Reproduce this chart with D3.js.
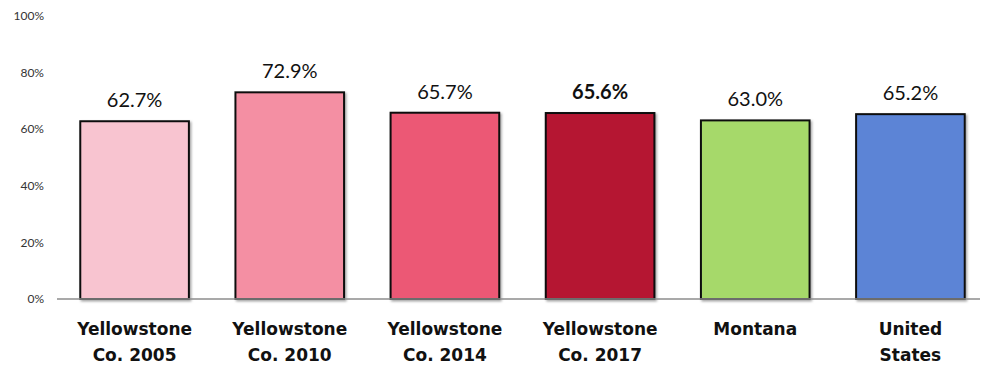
<!DOCTYPE html>
<html>
<head>
<meta charset="utf-8">
<script src="https://cdn.jsdelivr.net/npm/d3@7"></script>
<style>
  html, body { margin: 0; padding: 0; background: #fff; }
  svg { display: block; }
</style>
</head>
<body>
<svg id="chart" width="989" height="366"></svg>
<script>
// Share of population, by area and year
const categories = [
  ["Yellowstone", "Co. 2005"],
  ["Yellowstone", "Co. 2010"],
  ["Yellowstone", "Co. 2014"],
  ["Yellowstone", "Co. 2017"],
  ["Montana"],
  ["United", "States"]
];
const values = [62.7, 72.9, 65.7, 65.6, 63.0, 65.2];
const barColors = ["#F8C4D0", "#F48FA3", "#EC5874", "#B51432", "#A6D96A", "#5B84D6"];
const boldLabel = [false, false, false, true, false, false];
const yTicks = [0, 20, 40, 60, 80, 100];

const svg = d3.select("#chart");
const font = "'Lato', 'DejaVu Sans', sans-serif";
const catFont = "'DejaVu Sans', sans-serif";
const plotLeft = 57, plotRight = 988, plotTop = 15.5, plotBottom = 299;

const x = d3.scaleBand()
  .domain(d3.range(values.length))
  .range([plotLeft, plotRight])
  .paddingInner(0.3)
  .paddingOuter(0.15);

const y = d3.scaleLinear().domain([0, 100]).range([plotBottom, plotTop]);

const defs = svg.append("defs");
const f = defs.append("filter").attr("id", "shadow")
  .attr("x", "-10%").attr("y", "-10%").attr("width", "130%").attr("height", "130%");
f.append("feDropShadow").attr("dx", 1.5).attr("dy", 1.5).attr("stdDeviation", 1.2)
  .attr("flood-color", "#000").attr("flood-opacity", 0.35);

// y axis tick labels
const yAxis = d3.axisLeft(y).tickValues(yTicks).tickFormat(d => d + "%").tickSize(0).tickPadding(13);
const ga = svg.append("g").attr("transform", `translate(${plotLeft},0)`).call(yAxis);
ga.select(".domain").remove();
ga.selectAll("text")
  .attr("font-family", font)
  .attr("font-size", 12)
  .attr("fill", "#333");

// bars
svg.append("g").selectAll("rect")
  .data(values)
  .join("rect")
  .attr("x", (d, i) => x(i))
  .attr("y", d => y(d))
  .attr("width", x.bandwidth())
  .attr("height", d => y(0) - y(d))
  .attr("fill", (d, i) => barColors[i])
  .attr("stroke", "#111")
  .attr("stroke-width", 2)
  .attr("filter", "url(#shadow)");

// baseline
svg.append("line")
  .attr("x1", plotLeft).attr("x2", plotRight - 8)
  .attr("y1", y(0)).attr("y2", y(0))
  .attr("stroke", "#8c8c8c").attr("stroke-width", 1.5);

// value labels
svg.append("g").selectAll("text")
  .data(values)
  .join("text")
  .attr("x", (d, i) => x(i) + x.bandwidth() / 2)
  .attr("y", d => y(d) - 14)
  .attr("text-anchor", "middle")
  .attr("font-family", font)
  .attr("font-size", 20)
  .attr("font-weight", (d, i) => boldLabel[i] ? "bold" : "normal")
  .attr("fill", "#111")
  .text(d => d.toFixed(1) + "%");

// category labels
const cg = svg.append("g").selectAll("text")
  .data(categories)
  .join("text")
  .attr("x", (d, i) => x(i) + x.bandwidth() / 2)
  .attr("y", 335)
  .attr("text-anchor", "middle")
  .attr("font-family", catFont)
  .attr("font-size", 17)
  .attr("font-weight", "bold")
  .attr("fill", "#111");
cg.selectAll("tspan")
  .data(d => d)
  .join("tspan")
  .attr("x", function () { return d3.select(this.parentNode).attr("x"); })
  .attr("dy", (d, i) => i === 0 ? 0 : 26)
  .text(d => d);
</script>
</body>
</html>
